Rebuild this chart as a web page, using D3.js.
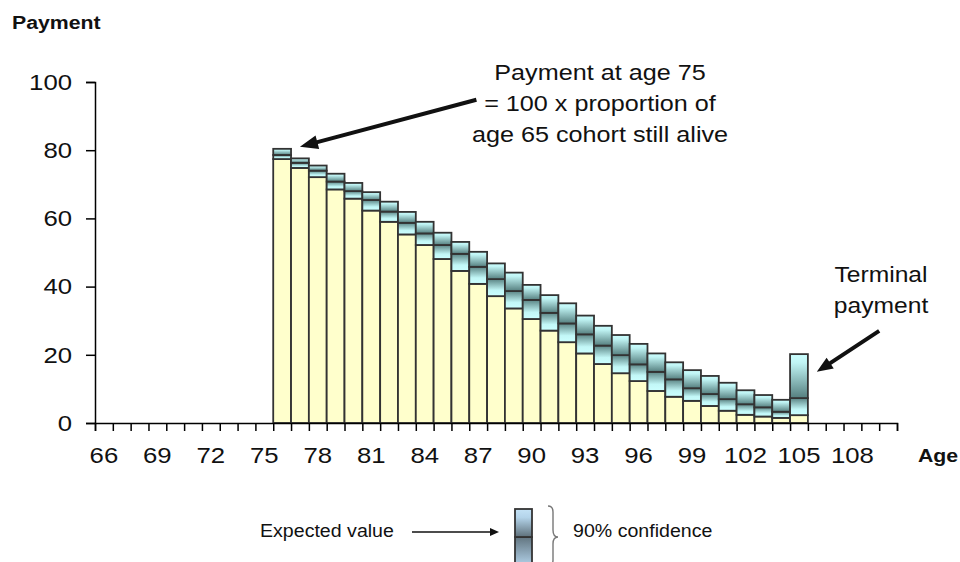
<!DOCTYPE html>
<html>
<head>
<meta charset="utf-8">
<script src="https://cdn.jsdelivr.net/npm/d3@7/dist/d3.min.js"></script>
<style>
  body { margin: 0; background: #fff; }
  svg { display: block; font-family: "Liberation Sans", Arial, sans-serif; }
</style>
</head>
<body>
<div id="chart"></div>
<script>
// categories on the age axis (one band per year)
var ages = d3.range(66, 111);
var ageTicks = [66, 69, 72, 75, 78, 81, 84, 87, 90, 93, 96, 99, 102, 105, 108];
var payTicks = [0, 20, 40, 60, 80, 100];

// payment ages and their 90% band + expected value
var payAges  = [76, 77, 78, 79, 80, 81, 82, 83, 84, 85, 86, 87, 88, 89, 90,
                91, 92, 93, 94, 95, 96, 97, 98, 99, 100, 101, 102, 103, 104, 105];
var lower    = [77.4, 74.8, 72.1, 68.5, 65.8, 62.3, 59.0, 55.3, 52.2, 48.1, 44.6, 40.8, 37.2, 33.6, 30.5,
                27.1, 23.7, 20.4, 17.3, 14.6, 12.3, 9.4, 7.7, 6.5, 5.0, 3.6, 2.4, 1.9, 1.5, 2.3];
var expected = [78.6, 76.3, 74.0, 70.8, 68.0, 65.4, 62.0, 58.7, 55.6, 52.2, 49.6, 45.8, 42.2, 38.7, 36.1,
                32.3, 29.2, 26.0, 22.7, 19.9, 17.2, 15.0, 12.8, 10.2, 8.5, 7.0, 5.5, 4.6, 3.3, 7.3];
var upper    = [80.4, 77.6, 75.5, 73.1, 70.4, 67.7, 64.9, 61.9, 59.0, 55.8, 53.1, 50.2, 46.8, 44.1, 40.5,
                37.5, 35.1, 31.5, 28.5, 25.8, 23.2, 20.4, 17.8, 15.5, 13.8, 11.8, 9.6, 8.2, 6.8, 20.2];

var W = 960, H = 562;
var SX = 1.12; // the source picture is a bit wider than tall, stretch text to match

var svg = d3.select("#chart").append("svg").attr("width", W).attr("height", H);

var x = d3.scaleBand().domain(ages).range([95, 897]).padding(0);
var xb = d3.scaleLinear().domain([66, 111]).range([95, 897]); // band edges
var y = d3.scaleLinear().domain([0, 100]).range([423, 82]);

var defs = svg.append("defs");
function grad(id, stops) {
  var g = defs.append("linearGradient").attr("id", id)
    .attr("x1", 0).attr("y1", 0).attr("x2", 0).attr("y2", 1);
  stops.forEach(function (s) {
    g.append("stop").attr("offset", s[0]).attr("stop-color", s[1]);
  });
}
grad("bandUp",  [["0%", "#ccffff"], ["20%", "#c0f4f4"], ["100%", "#557f7f"]]);
grad("bandLow", [["0%", "#5a8484"], ["65%", "#c2f7f7"], ["100%", "#ccffff"]]);
grad("legUp",   [["0%", "#c4e2f6"], ["30%", "#b4d4ea"], ["100%", "#5e707a"]]);
grad("legLow",  [["0%", "#627580"], ["100%", "#b6d6ee"]]);

function txt(sel, px, py, str, size, weight, anchor) {
  return sel.append("text")
    .attr("transform", "translate(" + px + "," + py + ") scale(" + SX + ",1)")
    .attr("text-anchor", anchor || "start")
    .style("font-size", size + "px")
    .style("font-weight", weight || "normal")
    .attr("fill", "#111")
    .text(str);
}

// bars
var rows = payAges.map(function (a, i) {
  return { age: a, lo: lower[i], ev: expected[i], hi: upper[i] };
});
var bars = svg.append("g").selectAll("g").data(rows).enter().append("g");
bars.append("rect")
  .attr("x", function (d) { return x(d.age); }).attr("width", x.bandwidth())
  .attr("y", function (d) { return y(d.lo); })
  .attr("height", function (d) { return y(0) - y(d.lo); })
  .attr("fill", "#ffffcc").attr("stroke", "#333").attr("stroke-width", 1.8);
bars.append("rect")
  .attr("x", function (d) { return x(d.age); }).attr("width", x.bandwidth())
  .attr("y", function (d) { return y(d.ev); })
  .attr("height", function (d) { return y(d.lo) - y(d.ev); })
  .attr("fill", "url(#bandLow)").attr("stroke", "#333").attr("stroke-width", 1.8);
bars.append("rect")
  .attr("x", function (d) { return x(d.age); }).attr("width", x.bandwidth())
  .attr("y", function (d) { return y(d.hi); })
  .attr("height", function (d) { return y(d.ev) - y(d.hi); })
  .attr("fill", "url(#bandUp)").attr("stroke", "#333").attr("stroke-width", 1.8);

// axes
var yAxis = svg.append("g").attr("transform", "translate(95,0)")
  .call(d3.axisLeft(y).tickValues(payTicks).tickSize(9).tickPadding(11.5));
yAxis.selectAll("text")
  .style("font-size", "23px").attr("fill", "#111")
  .attr("transform", "scale(" + SX + ",1)");

var xEdges = svg.append("g").attr("transform", "translate(0,423)")
  .call(d3.axisBottom(xb).tickValues(d3.range(66, 112)).tickSize(8).tickFormat(""));
var xLabels = svg.append("g").attr("transform", "translate(0,423)")
  .call(d3.axisBottom(x).tickValues(ageTicks).tickSize(0).tickPadding(24));
xLabels.select(".domain").remove();
xLabels.selectAll("text")
  .style("font-size", "23px").attr("fill", "#111")
  .attr("transform", "scale(" + SX + ",1)");
svg.selectAll(".domain, .tick line").attr("stroke", "#000").attr("stroke-width", 1.5);

// axis titles
txt(svg, 12, 29, "Payment", 19, "bold");
txt(svg, 918, 462, "Age", 19, "bold");

// annotations
function arrow(x1, y1, x2, y2, w, hl, hw) {
  var dx = x2 - x1, dy = y2 - y1, L = Math.sqrt(dx * dx + dy * dy);
  var ux = dx / L, uy = dy / L, nx = -uy, ny = ux;
  var bx = x2 - ux * hl, by = y2 - uy * hl;
  var pts = [
    [x1 + nx * w / 2, y1 + ny * w / 2], [bx + nx * w / 2, by + ny * w / 2],
    [bx + nx * hw / 2, by + ny * hw / 2], [x2, y2],
    [bx - nx * hw / 2, by - ny * hw / 2], [bx - nx * w / 2, by - ny * w / 2],
    [x1 - nx * w / 2, y1 - ny * w / 2]
  ];
  svg.append("path").attr("d", d3.line()(pts) + "Z").attr("fill", "#111");
}

var note1 = ["Payment at age 75", "= 100 x proportion of", "age 65 cohort still alive"];
note1.forEach(function (s, i) { txt(svg, 600, 80 + i * 31, s, 22.5, "normal", "middle"); });
arrow(xb(87.4), y(94.8), xb(77.5), y(81), 4, 18, 14);

var note2 = ["Terminal", "payment"];
note2.forEach(function (s, i) { txt(svg, 881, 282 + i * 31, s, 22, "normal", "middle"); });
arrow(xb(110), y(27), xb(106.5), y(15), 4, 16, 13);

// legend
var leg = svg.append("g");
txt(leg, 260, 537, "Expected value", 17.5);
leg.append("line").attr("x1", 412).attr("y1", 532).attr("x2", 492).attr("y2", 532)
  .attr("stroke", "#111").attr("stroke-width", 1.5);
leg.append("path").attr("d", "M499,532L490,528L490,536Z").attr("fill", "#111");
leg.append("rect").attr("x", 515).attr("y", 537).attr("width", 17).attr("height", 30)
  .attr("fill", "url(#legLow)").attr("stroke", "#333").attr("stroke-width", 1.8);
leg.append("rect").attr("x", 515).attr("y", 509).attr("width", 17).attr("height", 28)
  .attr("fill", "url(#legUp)").attr("stroke", "#333").attr("stroke-width", 1.8);
leg.append("path")
  .attr("d", "M548,506Q553,506 553,512L553,530Q553,537 558,537Q553,537 553,544L553,560Q553,566 548,566")
  .attr("fill", "none").attr("stroke", "#777").attr("stroke-width", 1.4);
txt(leg, 573, 537, "90% confidence", 17.5);
</script>
</body>
</html>
